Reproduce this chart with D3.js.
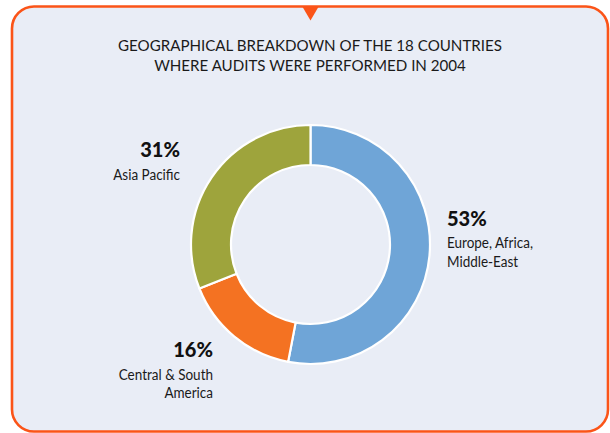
<!DOCTYPE html>
<html>
<head>
<meta charset="utf-8">
<script src="https://cdn.jsdelivr.net/npm/d3@7"></script>
<style>
  html, body { margin: 0; padding: 0; background: #ffffff; }
  svg { display: block; }
</style>
</head>
<body>
<div id="chart"></div>
<script>
// chart data
const titleLines = ["GEOGRAPHICAL BREAKDOWN OF THE 18 COUNTRIES", "WHERE AUDITS WERE PERFORMED IN 2004"];
const regions = ["Europe, Africa, Middle-East", "Central & South America", "Asia Pacific"];
const shares = [53, 16, 31];
const labelLines = [["Europe, Africa,", "Middle-East"], ["Central & South", "America"], ["Asia Pacific"]];
const colors = ["#6fa5d7", "#f47222", "#9ea43c"];

const width = 610,
	height = 433,
	cx = 310.5,
	cy = 244.5,
	outerR = 119.5,
	innerR = 79.5;

// squeeze a text horizontally (the original face is narrower than Lato)
const condense = function (sel, k) {
	sel.each(function () {
		const w = this.getComputedTextLength();
		d3.select(this)
			.attr("textLength", w * k)
			.attr("lengthAdjust", "spacingAndGlyphs");
	});
};

const svg = d3.select("#chart").append("svg")
	.attr("width", width)
	.attr("height", height);

// panel with orange border and the little pointer on top
svg.append("rect")
	.attr("x", 12)
	.attr("y", 6.5)
	.attr("width", 596)
	.attr("height", 425)
	.attr("rx", 22)
	.attr("ry", 22)
	.attr("fill", "#e9edf6")
	.attr("stroke", "#fb5418")
	.attr("stroke-width", 2.6);

svg.append("path")
	.attr("d", d3.line()([[302, 6], [319, 6], [310.5, 20.5]]) + "Z")
	.attr("fill", "#fb5418");

// title
svg.selectAll("text.title")
	.data(titleLines)
	.enter()
	.append("text")
	.attr("class", "title")
	.attr("x", width / 2 + 5)
	.attr("y", (d, i) => 50.7 + i * 20)
	.attr("text-anchor", "middle")
	.attr("font-family", "Lato, sans-serif")
	.attr("font-size", 16)
	.attr("fill", "#1a1a1a")
	.text(d => d)
	.call(condense, 0.945);

// donut
const pie = d3.pie().sort(null).value(d => d);
const arc = d3.arc().innerRadius(innerR).outerRadius(outerR);

const g = svg.append("g")
	.attr("transform", "translate(" + cx + "," + cy + ")");

g.selectAll("path.slice")
	.data(pie(shares))
	.enter()
	.append("path")
	.attr("class", "slice")
	.attr("d", arc)
	.attr("fill", (d, i) => colors[i])
	.attr("stroke", "#ffffff")
	.attr("stroke-width", 2.2)
	.attr("stroke-linejoin", "round");

// labels: anchor point + alignment for each slice
const labelLayout = [
	{x: 447, y: 225.7, anchor: "start"},
	{x: 213, y: 357.3, anchor: "end"},
	{x: 180, y: 157.3, anchor: "end"}
];

const labels = svg.selectAll("g.label")
	.data(regions)
	.enter()
	.append("g")
	.attr("class", "label")
	.attr("transform", (d, i) => "translate(" + labelLayout[i].x + "," + labelLayout[i].y + ")")
	.attr("text-anchor", (d, i) => labelLayout[i].anchor);

labels.append("text")
	.attr("class", "pct")
	.attr("font-family", "Lato, sans-serif")
	.attr("font-weight", 900)
	.attr("font-size", 20)
	.attr("fill", "#111")
	.text((d, i) => shares[i] + "%");

labels.each(function (d, i) {
	d3.select(this).selectAll("text.name")
		.data(labelLines[i])
		.enter()
		.append("text")
		.attr("class", "name")
		.attr("y", (t, j) => 22.5 + j * 18.5)
		.attr("font-family", "Lato, sans-serif")
		.attr("font-size", 15.5)
		.attr("fill", "#1a1a1a")
		.text(t => t);
});

labels.selectAll("text.name").call(condense, 0.87);
</script>
</body>
</html>
